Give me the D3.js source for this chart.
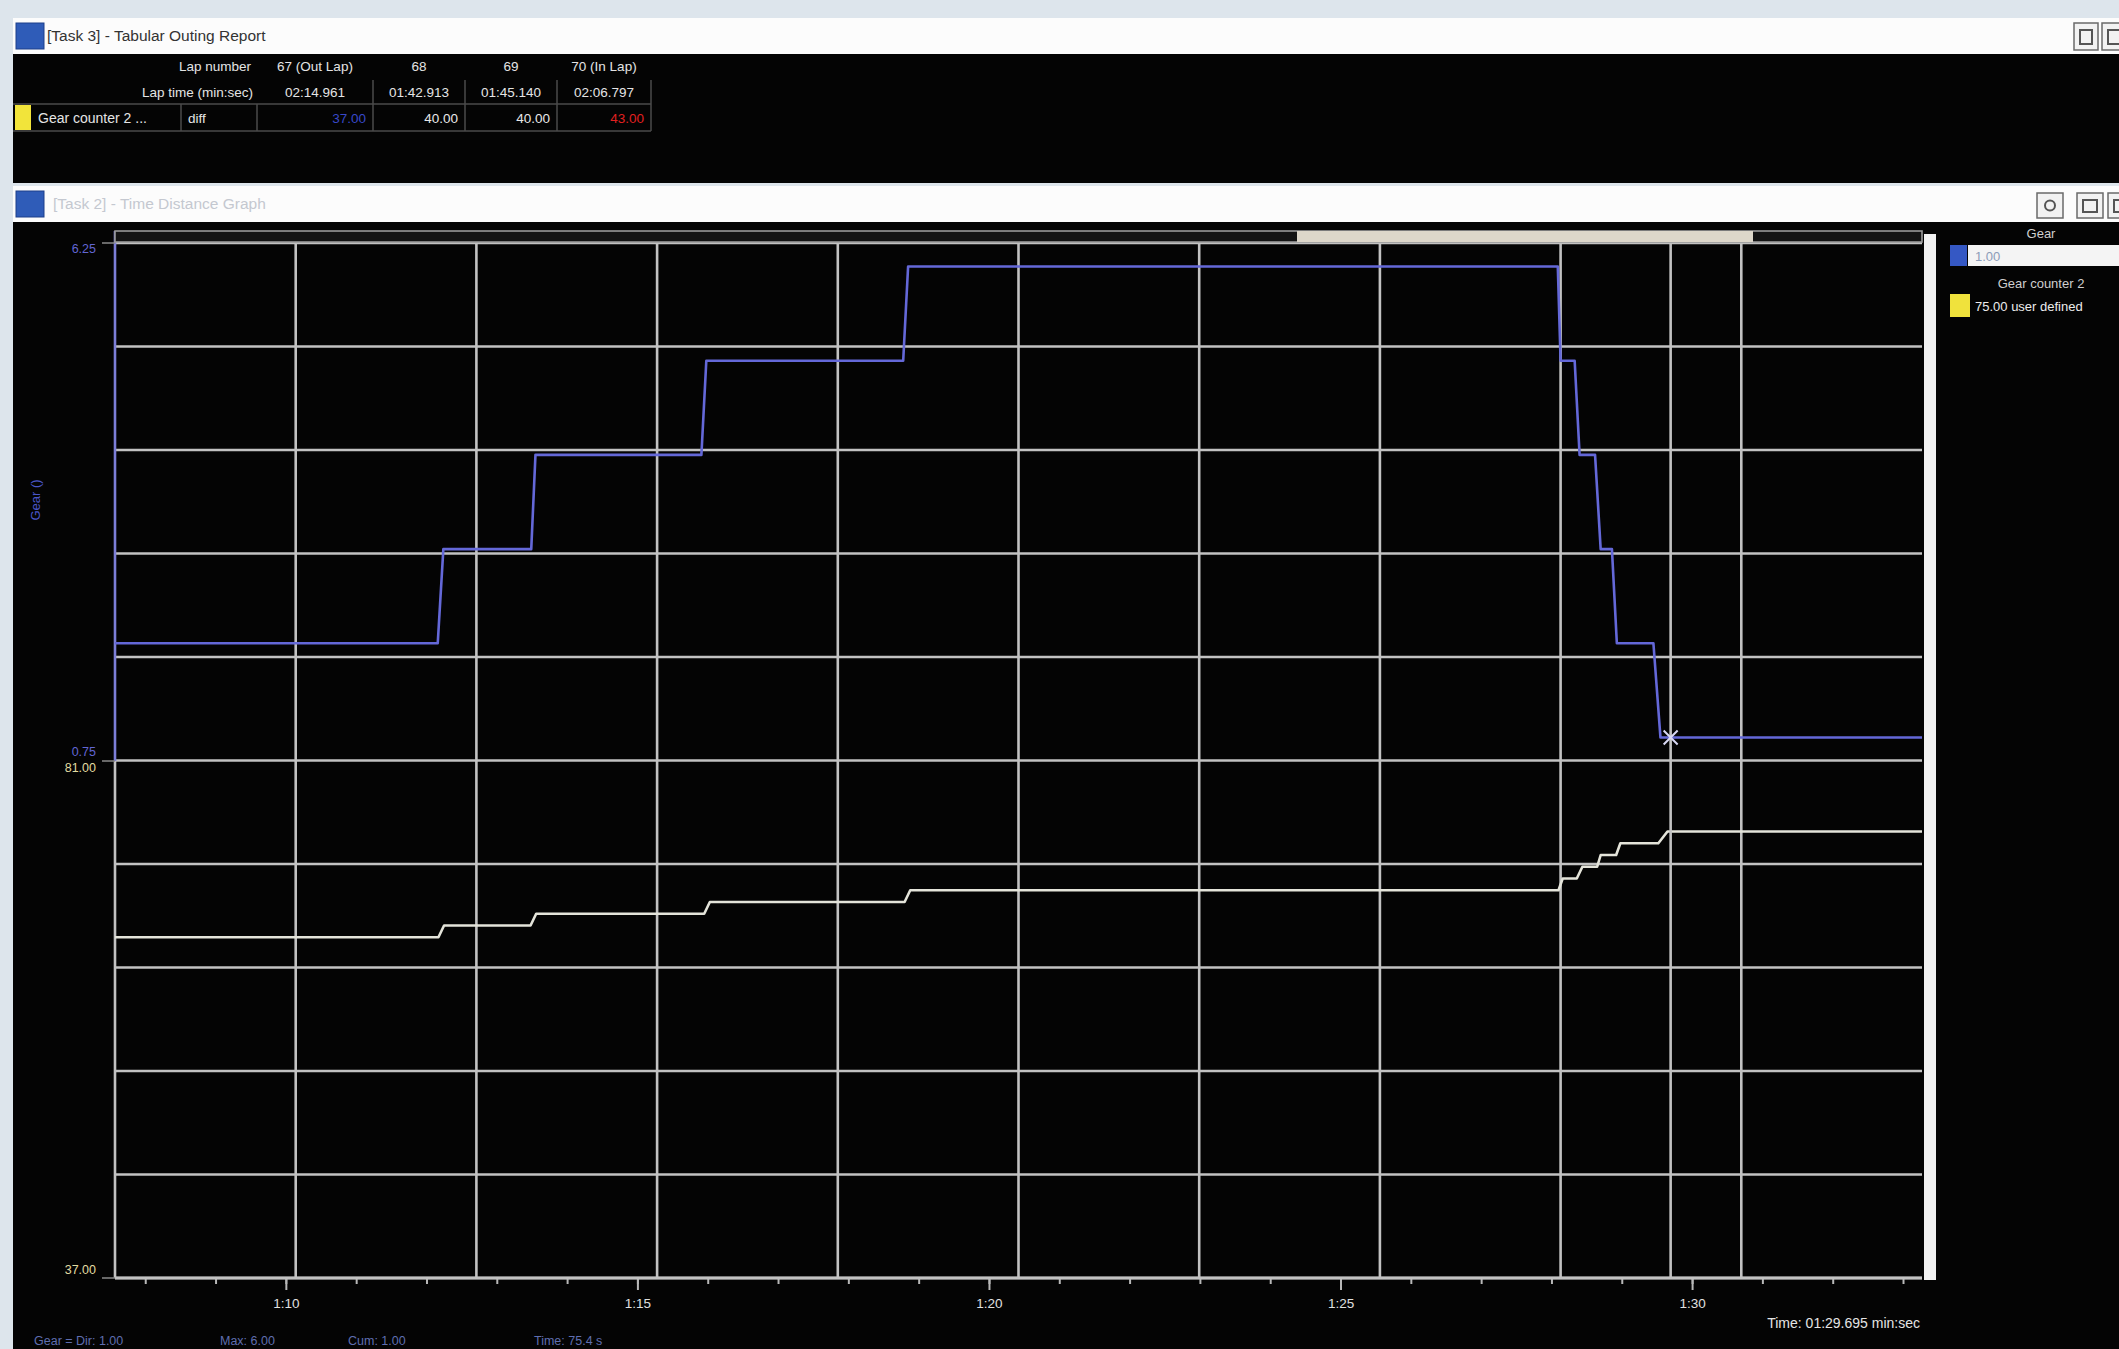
<!DOCTYPE html>
<html>
<head>
<meta charset="utf-8">
<script src="https://cdn.jsdelivr.net/npm/d3@7"></script>
<style>
  html, body { margin: 0; padding: 0; background: #dde5ec; overflow: hidden; }
  svg { display: block; }
  text { font-family: "Liberation Sans", Arial, sans-serif; }
</style>
</head>
<body>
<svg id="screen" width="2119" height="1349"></svg>
<script>
// ---- Outing report table ----
const lapNumbers = ["67 (Out Lap)", "68", "69", "70 (In Lap)"];
const lapTimes = ["02:14.961", "01:42.913", "01:45.140", "02:06.797"];
const gearCounterPerLap = [37.00, 40.00, 40.00, 43.00];
const gearCounterColours = ["#3848c8", "#e8e8e8", "#e8e8e8", "#e02020"];

// ---- Gear trace (time in s, gear) ----
const gearTime  = [67.57, 72.16, 72.24, 73.49, 73.55, 75.91, 75.98, 78.78, 78.85,
                   88.09, 88.13, 88.33, 88.40, 88.62, 88.70, 88.86, 88.93, 89.45, 89.55, 93.27];
const gearValue = [2, 2, 3, 3, 4, 4, 5, 5, 6,
                   6, 5, 5, 4, 4, 3, 3, 2, 2, 1, 1];

// ---- Gear counter 2 trace (time in s, count) ----
const counterTime  = [67.57, 72.17, 72.25, 73.48, 73.56, 75.95, 76.03, 78.80, 78.88,
                      88.10, 88.16, 88.36, 88.44, 88.65, 88.70, 88.92, 88.98, 89.52, 89.65, 93.27];
const counterValue = [66, 66, 67, 67, 68, 68, 69, 69, 70,
                      70, 71, 71, 72, 72, 73, 73, 74, 74, 75, 75];

// ---- Axes ----
const timeDomain = [67.57, 93.27];
const gearDomain = [0.75, 6.25];
const counterDomain = [37, 81];
const minorTickTimes = d3.range(68, 94, 1);
const labelTickTimes = [70, 75, 80, 85, 90];

// ---- Cursor read-out ----
const cursorTime = 89.695;
const cursorGear = 1.00;
const cursorCounter = 75.00;

const svg = d3.select("#screen");
const W = 2119, H = 1349;

// desktop background
svg.append("rect").attr("width", W).attr("height", H).attr("fill", "#dde5ec");

// ---------- window chrome ----------
function titleBar(y0, h, title, active) {
  svg.append("rect").attr("x", 13).attr("y", y0).attr("width", W - 13).attr("height", h).attr("fill", "#fcfcfc");
  svg.append("rect").attr("x", 16).attr("y", y0 + 5).attr("width", 28).attr("height", h - 10)
     .attr("fill", "#2f5cb8").attr("stroke", "#1d3f8a");
  svg.append("text").attr("x", active ? 47 : 53).attr("y", y0 + h / 2 + 5)
     .attr("font-size", 15.5).attr("fill", active ? "#333" : "#c4c8d0").text(title);
}
function button(x, y, w, h, kind) {
  svg.append("rect").attr("x", x).attr("y", y).attr("width", w).attr("height", h)
     .attr("fill", "#f2f2f2").attr("stroke", "#6a6a6a").attr("stroke-width", 1.5);
  if (kind === "max") {
    svg.append("rect").attr("x", x + 6).attr("y", y + 7).attr("width", w - 12).attr("height", h - 13)
       .attr("fill", "none").attr("stroke", "#555").attr("stroke-width", 2);
  } else {
    svg.append("circle").attr("cx", x + w / 2).attr("cy", y + h / 2).attr("r", 5)
       .attr("fill", "none").attr("stroke", "#555").attr("stroke-width", 2);
  }
}

// window 1: tabular report
titleBar(18, 36, "[Task 3] - Tabular Outing Report", true);
button(2074, 23, 24, 27, "max");
button(2102, 23, 24, 27, "max");
svg.append("rect").attr("x", 13).attr("y", 54).attr("width", W - 13).attr("height", 129).attr("fill", "#040404");

// window 2: time/distance graph
titleBar(186, 36, "[Task 2] - Time Distance Graph", false);
button(2037, 193, 26, 25, "restore");
button(2077, 193, 26, 25, "max");
button(2108, 193, 26, 25, "max");
svg.append("rect").attr("x", 13).attr("y", 222).attr("width", W - 13).attr("height", H - 222).attr("fill", "#040404");

// ---------- report table ----------
const tbl = svg.append("g").attr("font-size", 13.5).attr("fill", "#e4e4e4");
const colEdges = [257, 373, 465, 557, 651];
const rowY = [71, 97, 123];
tbl.append("text").attr("x", 251).attr("y", rowY[0]).attr("text-anchor", "end").text("Lap number");
tbl.append("text").attr("x", 253).attr("y", rowY[1]).attr("text-anchor", "end").text("Lap time (min:sec)");
lapNumbers.forEach((d, i) => {
  tbl.append("text").attr("x", (colEdges[i] + colEdges[i + 1]) / 2).attr("y", rowY[0])
     .attr("text-anchor", "middle").text(d);
});
lapTimes.forEach((d, i) => {
  tbl.append("text").attr("x", (colEdges[i] + colEdges[i + 1]) / 2).attr("y", rowY[1])
     .attr("text-anchor", "middle").text(d);
});
// grid of the table
const tl = svg.append("g").attr("stroke", "#4a4a4a").attr("stroke-width", 1.5);
tl.append("line").attr("x1", 13).attr("x2", 651).attr("y1", 104).attr("y2", 104);
tl.append("line").attr("x1", 13).attr("x2", 651).attr("y1", 131).attr("y2", 131);
[181, 257].forEach(x => tl.append("line").attr("x1", x).attr("x2", x).attr("y1", 104).attr("y2", 131));
colEdges.slice(1).forEach(x => tl.append("line").attr("x1", x).attr("x2", x).attr("y1", 80).attr("y2", 131));
// channel row
svg.append("rect").attr("x", 15).attr("y", 105).attr("width", 16).attr("height", 25).attr("fill", "#f2e43a");
tbl.append("text").attr("x", 38).attr("y", rowY[2]).attr("font-size", 14).text("Gear counter 2 ...");
tbl.append("text").attr("x", 188).attr("y", rowY[2]).text("diff");
gearCounterPerLap.forEach((v, i) => {
  tbl.append("text").attr("x", colEdges[i + 1] - 7).attr("y", rowY[2]).attr("text-anchor", "end")
     .attr("fill", gearCounterColours[i]).text(v.toFixed(2));
});

// ---------- graph ----------
const L = 115, R = 1922, T = 243, B = 1278, MID = 761;
const x = d3.scaleLinear().domain(timeDomain).range([L, R]);
const yGear = d3.scaleLinear().domain(gearDomain).range([MID, T]);
const yCount = d3.scaleLinear().domain(counterDomain).range([B, MID]);

const GRID = "#c2c2c2";
const gridX = d3.scaleLinear().domain([0, 10]).range([L, R]);
const gridY = d3.scaleLinear().domain([0, 10]).range([T, B]);
const grid = svg.append("g").attr("stroke", GRID).attr("stroke-width", 2.6);
d3.range(1, 11).forEach(i => grid.append("line").attr("x1", L).attr("x2", R).attr("y1", gridY(i)).attr("y2", gridY(i)));
d3.range(1, 10).forEach(i => grid.append("line").attr("x1", gridX(i)).attr("x2", gridX(i)).attr("y1", T).attr("y2", B));
grid.append("line").attr("x1", L).attr("x2", R).attr("y1", T).attr("y2", T);

// left axis line: gear half in blue, counter half in grey
svg.append("line").attr("x1", L).attr("x2", L).attr("y1", 231).attr("y2", MID)
   .attr("stroke", "#7c7ed8").attr("stroke-width", 2.6);
svg.append("line").attr("x1", L).attr("x2", L).attr("y1", MID).attr("y2", B)
   .attr("stroke", GRID).attr("stroke-width", 2.6);
[T, MID, B].forEach(y => svg.append("line").attr("x1", 102).attr("x2", L).attr("y1", y).attr("y2", y)
   .attr("stroke", "#8a8a8a").attr("stroke-width", 1.5));

// zoom/scroll strip along the top
svg.append("rect").attr("x", L).attr("y", 231).attr("width", R - L).attr("height", 11)
   .attr("fill", "#141414").attr("stroke", "#9a9a9a").attr("stroke-width", 1.6);
svg.append("rect").attr("x", 1297).attr("y", 231).attr("width", 456).attr("height", 11).attr("fill", "#ddd7ca");
// right-hand bar
svg.append("rect").attr("x", 1924).attr("y", 234).attr("width", 12).attr("height", B - 234 + 2).attr("fill", "#f2f2f2");

// x axis
const fmtLap = t => `${Math.floor(t / 60)}:${String(Math.round(t % 60)).padStart(2, "0")}`;
const minorAxis = svg.append("g").attr("transform", `translate(0,${B})`)
  .call(d3.axisBottom(x).tickValues(minorTickTimes).tickSize(6).tickFormat(""));
const majorAxis = svg.append("g").attr("transform", `translate(0,${B})`)
  .call(d3.axisBottom(x).tickValues(labelTickTimes).tickSize(12).tickPadding(8).tickFormat(fmtLap));
[minorAxis, majorAxis].forEach(g => {
  g.select(".domain").remove();
  g.selectAll(".tick line").attr("stroke", "#b8b8b8").attr("stroke-width", 2);
  g.selectAll(".tick text").attr("fill", "#e0e0e0").attr("font-size", 13.5)
   .attr("font-family", "Liberation Sans, Arial, sans-serif");
});
svg.append("line").attr("x1", L).attr("x2", R).attr("y1", B).attr("y2", B).attr("stroke", GRID).attr("stroke-width", 3);

// y labels (scale extremes)
const yl = svg.append("g").attr("font-size", 12.5).attr("text-anchor", "end");
yl.append("text").attr("x", 96).attr("y", yGear(gearDomain[1]) + 10).attr("fill", "#6266d4").text(gearDomain[1].toFixed(2));
yl.append("text").attr("x", 96).attr("y", yGear(gearDomain[0]) - 5).attr("fill", "#6266d4").text(gearDomain[0].toFixed(2));
yl.append("text").attr("x", 96).attr("y", yCount(counterDomain[1]) + 11).attr("fill", "#e2dca2").text(counterDomain[1].toFixed(2));
yl.append("text").attr("x", 96).attr("y", yCount(counterDomain[0]) - 4).attr("fill", "#e2dca2").text(counterDomain[0].toFixed(2));
svg.append("text").attr("transform", "translate(40,500) rotate(-90)").attr("text-anchor", "middle")
   .attr("font-size", 13).attr("fill", "#4a56c8").text("Gear ()");

// traces
svg.append("clipPath").attr("id", "plot").append("rect").attr("x", L).attr("y", T - 2).attr("width", R - L).attr("height", B - T + 4);
const traces = svg.append("g").attr("clip-path", "url(#plot)");
const counterLine = d3.line().x((d, i) => x(counterTime[i])).y(d => yCount(d));
traces.append("path").datum(counterValue).attr("d", counterLine)
  .attr("fill", "none").attr("stroke", "#e4e4da").attr("stroke-width", 2.6).attr("stroke-linejoin", "round");
const gearLine = d3.line().x((d, i) => x(gearTime[i])).y(d => yGear(d));
traces.append("path").datum(gearValue).attr("d", gearLine)
  .attr("fill", "none").attr("stroke", "#6468d8").attr("stroke-width", 2.6).attr("stroke-linejoin", "round");

// cursor
const cx = x(cursorTime), cy = yGear(cursorGear);
svg.append("line").attr("x1", cx).attr("x2", cx).attr("y1", T).attr("y2", B).attr("stroke", GRID).attr("stroke-width", 2.6);
svg.append("path").attr("d", `M${cx - 7},${cy - 7}L${cx + 7},${cy + 7}M${cx - 7},${cy + 7}L${cx + 7},${cy - 7}`)
   .attr("stroke", "#d8d8f4").attr("stroke-width", 2);

const secs = cursorTime - 60 * Math.floor(cursorTime / 60);
const timeText = `Time: ${String(Math.floor(cursorTime / 60)).padStart(2, "0")}:${secs.toFixed(3).padStart(6, "0")} min:sec`;
svg.append("text").attr("x", 1920).attr("y", 1328).attr("text-anchor", "end")
   .attr("font-size", 14).attr("fill", "#e4e4e4").text(timeText);

// legend
const lg = svg.append("g").attr("font-size", 13);
lg.append("text").attr("x", 2041).attr("y", 238).attr("text-anchor", "middle").attr("fill", "#cfcfcf").text("Gear");
lg.append("rect").attr("x", 1968).attr("y", 245).attr("width", W - 1968).attr("height", 21).attr("fill", "#f4f4f4");
lg.append("rect").attr("x", 1950).attr("y", 245).attr("width", 17).attr("height", 21).attr("fill", "#3558c4");
lg.append("text").attr("x", 1975).attr("y", 261).attr("fill", "#8c9cb8").text(cursorGear.toFixed(2));
lg.append("text").attr("x", 2041).attr("y", 288).attr("text-anchor", "middle").attr("fill", "#cfcfcf").text("Gear counter 2");
lg.append("rect").attr("x", 1950).attr("y", 294).attr("width", 20).attr("height", 23).attr("fill", "#f0e23c");
lg.append("text").attr("x", 1975).attr("y", 311).attr("fill", "#ececec").text(`${cursorCounter.toFixed(2)} user defined`);

// status line along the bottom edge
const st = svg.append("g").attr("font-size", 12.5).attr("fill", "#5f6eb0");
st.append("text").attr("x", 34).attr("y", 1345).text(`Gear = Dir: ${cursorGear.toFixed(2)}`);
st.append("text").attr("x", 220).attr("y", 1345).text(`Max: ${d3.max(gearValue).toFixed(2)}`);
st.append("text").attr("x", 348).attr("y", 1345).text(`Cum: ${cursorGear.toFixed(2)}`);
st.append("text").attr("x", 534).attr("y", 1345).text("Time: 75.4 s");
</script>
</body>
</html>
